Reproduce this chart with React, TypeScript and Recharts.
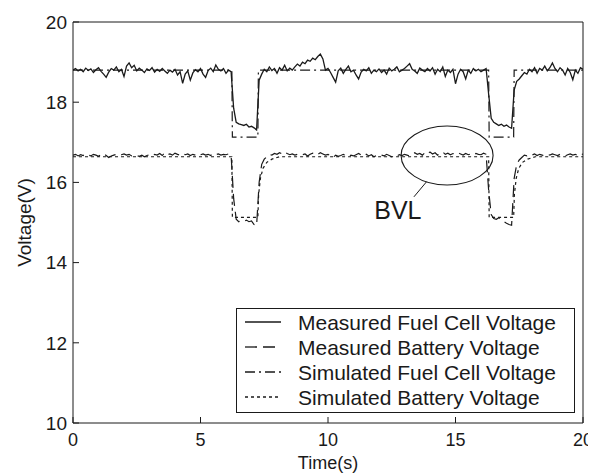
import React from 'react';
import { LineChart, Line, XAxis, YAxis, ReferenceDot, ReferenceLine, Legend, Label } from 'recharts';

// sampled every 0.1 s from 0 to 20 s
const SAMPLE_STEP = 0.1;

const measuredFuelCell = [
  18.80, 18.84, 18.78, 18.82, 18.76, 18.85, 18.79, 18.83, 18.74, 18.81,
  18.86, 18.77, 18.70, 18.62, 18.75, 18.84, 18.80, 18.88, 18.76, 18.82,
  18.64, 18.90, 18.98, 18.86, 18.92, 18.78, 18.85, 18.80, 18.74, 18.83,
  18.79, 18.86, 18.75, 18.82, 18.77, 18.84, 18.78, 18.72, 18.80, 18.75,
  18.82, 18.68, 18.76, 18.47, 18.70, 18.78, 18.55, 18.73, 18.81, 18.76,
  18.84, 18.70, 18.62, 18.79, 18.85, 18.76, 18.93, 18.82, 18.78, 18.84,
  18.72, 18.80, 18.76, 17.85, 17.50, 17.46, 17.44, 17.42, 17.45, 17.38,
  17.40, 17.36, 17.31, 18.55, 18.70, 18.82, 18.76, 18.88, 18.79, 18.84,
  18.72, 18.86, 18.80, 18.92, 18.78, 18.85, 18.80, 18.88, 18.95, 18.90,
  19.00, 18.96, 19.05, 19.02, 19.10, 19.06, 19.14, 19.20, 19.08, 18.80,
  18.84, 18.74, 18.62, 18.50, 18.78, 18.85, 18.72, 18.82, 18.90, 18.76,
  18.80, 18.68, 18.58, 18.75, 18.82, 18.78, 18.86, 18.72, 18.80, 18.76,
  18.83, 18.74, 18.80, 18.70, 18.85, 18.78, 18.82, 18.88, 18.76, 18.80,
  18.84, 18.90, 18.96, 18.82, 18.78, 18.72, 18.85, 18.80, 18.76, 18.84,
  18.78, 18.86, 18.70, 18.82, 18.76, 18.88, 18.64, 18.80, 18.74, 18.82,
  18.46, 18.70, 18.82, 18.76, 18.58, 18.80, 18.72, 18.84, 18.78, 18.82,
  18.76, 18.80, 18.84, 18.20, 17.60, 17.50, 17.46, 17.42, 17.45, 17.40,
  17.43, 17.38, 17.35, 18.30, 18.52, 18.58, 18.66, 18.74, 18.70, 18.82,
  18.76, 18.86, 18.72, 18.84, 18.80, 18.90, 18.78, 18.86, 18.98, 18.84,
  18.76, 18.86, 18.80, 18.68, 18.84, 18.74, 18.56, 18.80, 18.72, 18.86,
  18.82,
];

const measuredBattery = [
  16.68, 16.70, 16.66, 16.69, 16.67, 16.71, 16.68, 16.66, 16.70, 16.68,
  16.65, 16.69, 16.72, 16.67, 16.62, 16.66, 16.68, 16.70, 16.67, 16.69,
  16.71, 16.68, 16.70, 16.66, 16.69, 16.67, 16.65, 16.68, 16.64, 16.67,
  16.69, 16.66, 16.70, 16.68, 16.72, 16.67, 16.74, 16.69, 16.71, 16.68,
  16.73, 16.70, 16.68, 16.72, 16.69, 16.71, 16.67, 16.70, 16.68, 16.72,
  16.69, 16.71, 16.68, 16.70, 16.67, 16.72, 16.69, 16.71, 16.68, 16.70,
  16.69, 16.71, 16.68, 15.60, 15.08, 15.02, 15.05, 15.03, 15.06, 15.02,
  15.04, 14.95, 14.92, 16.00, 16.45, 16.58, 16.64, 16.70, 16.68, 16.72,
  16.70, 16.74, 16.71, 16.76, 16.72, 16.69, 16.71, 16.68, 16.70, 16.67,
  16.69, 16.71, 16.66, 16.70, 16.73, 16.68, 16.70, 16.74, 16.71, 16.68,
  16.70, 16.66, 16.62, 16.68, 16.65, 16.67, 16.70, 16.66, 16.64, 16.68,
  16.66, 16.69, 16.72, 16.68, 16.65, 16.70, 16.66, 16.69, 16.64, 16.67,
  16.65, 16.68, 16.66, 16.70, 16.67, 16.64, 16.68, 16.66, 16.69, 16.67,
  16.70, 16.68, 16.66, 16.69, 16.74, 16.70, 16.72, 16.68, 16.74, 16.70,
  16.76, 16.71, 16.74, 16.68, 16.72, 16.76, 16.70, 16.73, 16.69, 16.72,
  16.70, 16.74, 16.71, 16.68, 16.72, 16.69, 16.71, 16.68, 16.72, 16.70,
  16.69, 16.73, 16.70, 15.80, 15.20, 15.10, 15.08, 15.12, 15.06, 15.02,
  14.98, 14.95, 14.93, 16.10, 16.45, 16.56, 16.62, 16.68, 16.66, 16.70,
  16.68, 16.71, 16.67, 16.70, 16.68, 16.66, 16.70, 16.68, 16.71, 16.69,
  16.67, 16.70, 16.68, 16.66, 16.69, 16.71, 16.68, 16.70, 16.67, 16.72,
  16.70,
];

const simFuelCellTime = [0, 6.23, 6.25, 7.25, 7.27, 16.3, 16.32, 17.28, 17.3, 20];
const simFuelCell = [18.8, 18.8, 17.13, 17.13, 18.8, 18.8, 17.13, 17.13, 18.8, 18.8];

const simBatteryTime = [0, 6.23, 6.25, 7.25, 7.28, 7.35, 7.45, 7.6, 7.8, 8.1, 16.3, 16.32, 17.28, 17.31, 17.38, 17.48, 17.63, 17.83, 18.13, 20];
const simBattery = [16.64, 16.64, 15.13, 15.13, 15.7, 16.1, 16.35, 16.5, 16.58, 16.64, 16.64, 15.13, 15.13, 15.7, 16.1, 16.35, 16.5, 16.58, 16.64, 16.64];

const xTicks = [0, 5, 10, 15, 20];
const yTicks = [10, 12, 14, 16, 18, 20];

const seriesNames = [
  'Measured Fuel Cell Voltage',
  'Measured Battery Voltage',
  'Simulated Fuel Cell Voltage',
  'Simulated Battery Voltage',
];

// BVL annotation (time, voltage)
const bvlCenter = { t: 14.67, v: 16.67 };
const bvlLeader = [{ t: 13.87, v: 16.02 }, { t: 13.37, v: 15.64 }];
const bvlText = { t: 12.74, v: 15.31 };

const INK = '#1a1a1a';
const FONT = '"Liberation Sans", Arial, Helvetica, sans-serif';
const dashes = ['', '12 6', '10 4 2 4', '3 3'];

const sampled = (vals: number[]) => vals.map((v, i) => ({ t: +(i * SAMPLE_STEP).toFixed(2), v }));
const paired = (ts: number[], vals: number[]) => ts.map((t, i) => ({ t, v: vals[i] }));

const seriesData = [
  sampled(measuredFuelCell),
  sampled(measuredBattery),
  paired(simFuelCellTime, simFuelCell),
  paired(simBatteryTime, simBattery),
];

function LegendBox() {
  return (
    <div style={{ width: 339, height: 105, border: `1.5px solid ${INK}`, background: '#fff', boxSizing: 'border-box' }}>
      <svg width={336} height={102} style={{ display: 'block' }}>
        {seriesNames.map((name, i) => (
          <g key={name}>
            <line x1={8} x2={44} y1={13 + 25 * i} y2={13 + 25 * i} stroke={INK} strokeWidth={1.3} strokeDasharray={dashes[i]} />
            <text x={61} y={13 + 25 * i} dominantBaseline="central" fontSize={21} fill={INK} fontFamily={FONT}>
              {name}
            </text>
          </g>
        ))}
      </svg>
    </div>
  );
}

export default function App() {
  const tickStyle = { fill: INK, fontSize: 18, fontFamily: FONT };
  return (
    // cancel the body margin so the chart fills the whole window
    <div style={{ marginTop: -8, marginLeft: -8, width: 596, height: 475 }}>
      <LineChart width={596} height={475} margin={{ top: 21, right: 12, left: 0, bottom: 0 }} style={{ fontFamily: FONT }}>
        <XAxis
          type="number"
          dataKey="t"
          domain={[0, 20]}
          ticks={xTicks}
          allowDataOverflow
          height={52}
          tickSize={-6}
          tickMargin={16}
          tick={tickStyle}
          stroke={INK}
        >
          <Label
            content={({ viewBox }: any) => (
              <text x={viewBox.x + viewBox.width / 2} y={viewBox.y + 40} textAnchor="middle" dominantBaseline="central" fontSize={18} fill={INK} fontFamily={FONT}>
                Time(s)
              </text>
            )}
          />
        </XAxis>
        <XAxis xAxisId="top" orientation="top" type="number" dataKey="t" domain={[0, 20]} ticks={xTicks} height={1} tickSize={-6} tick={false} stroke={INK} />
        <YAxis
          type="number"
          domain={[10, 20]}
          ticks={yTicks}
          allowDataOverflow
          width={73}
          tickSize={-6}
          tickMargin={12}
          tick={{ ...tickStyle, fontSize: 19 }}
          stroke={INK}
        >
          <Label
            content={({ viewBox }: any) => {
              const cx = viewBox.x + 24;
              const cy = viewBox.y + viewBox.height / 2;
              return (
                <text x={cx} y={cy} transform={`rotate(-90 ${cx} ${cy})`} textAnchor="middle" dominantBaseline="central" fontSize={19} fill={INK} fontFamily={FONT}>
                  Voltage(V)
                </text>
              );
            }}
          />
        </YAxis>
        <YAxis yAxisId="right" orientation="right" type="number" domain={[10, 20]} ticks={yTicks} width={1} tickSize={-6} tick={false} stroke={INK} />

        {seriesData.map((d, i) => (
          <Line
            key={seriesNames[i]}
            data={d}
            dataKey="v"
            name={seriesNames[i]}
            type="linear"
            stroke={INK}
            strokeWidth={i === 0 ? 1.3 : 1.2}
            strokeDasharray={dashes[i]}
            dot={false}
            activeDot={false}
            isAnimationActive={false}
          />
        ))}

        <ReferenceDot
          x={bvlCenter.t}
          y={bvlCenter.v}
          r={1}
          shape={(p: any) => <ellipse cx={p.cx} cy={p.cy} rx={46} ry={29.5} fill="none" stroke={INK} strokeWidth={1.1} />}
        />
        <ReferenceLine
          segment={[{ x: bvlLeader[0].t, y: bvlLeader[0].v }, { x: bvlLeader[1].t, y: bvlLeader[1].v }]}
          stroke={INK}
          strokeWidth={1}
        />
        <ReferenceDot
          x={bvlText.t}
          y={bvlText.v}
          r={1}
          shape={(p: any) => (
            <text x={p.cx} y={p.cy} textAnchor="middle" dominantBaseline="central" fontSize={25} fill={INK} fontFamily={FONT}>
              BVL
            </text>
          )}
        />

        <Legend
          layout="horizontal"
          verticalAlign="middle"
          align="center"
          content={() => <LegendBox />}
          wrapperStyle={{ left: 236, top: 308, width: 339, height: 105, bottom: 'auto' }}
        />
      </LineChart>
    </div>
  );
}
